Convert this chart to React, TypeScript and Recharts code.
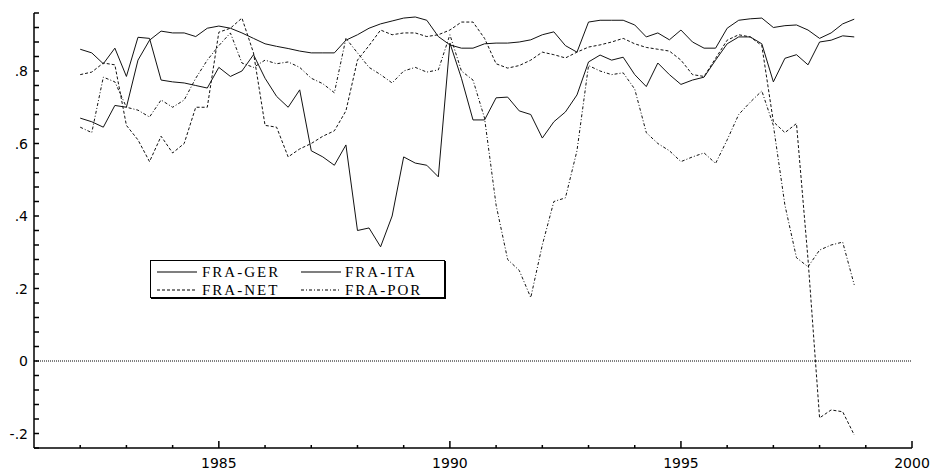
import { LineChart, Line, XAxis, YAxis, ReferenceLine, Legend } from 'recharts';

// quarterly observations, 1982Q1 .. 1998Q4
const QUARTERS = Array.from({ length: 68 }, (_, i) => 1982 + i / 4);

const FRA_GER = [
  0.67, 0.66, 0.645, 0.705, 0.70, 0.83, 0.885, 0.91, 0.905, 0.905, 0.895, 0.918,
  0.924, 0.918, 0.905, 0.89, 0.875, 0.868, 0.862, 0.855, 0.85, 0.85, 0.85, 0.885,
  0.90, 0.918, 0.93, 0.938, 0.946, 0.949, 0.94, 0.895, 0.872, 0.863, 0.863, 0.875,
  0.877, 0.877, 0.88, 0.886, 0.90, 0.908, 0.87, 0.852, 0.935, 0.94, 0.94, 0.94,
  0.927, 0.894, 0.905, 0.886, 0.913, 0.88, 0.863, 0.863, 0.918, 0.94, 0.944, 0.946,
  0.92, 0.925, 0.927, 0.913, 0.89, 0.905, 0.93, 0.943,
];
const FRA_ITA = [
  0.86, 0.85, 0.82, 0.863, 0.785, 0.893, 0.89, 0.775, 0.77, 0.767, 0.76, 0.753,
  0.81, 0.785, 0.80, 0.845, 0.78, 0.73, 0.70, 0.748, 0.58, 0.563, 0.54, 0.596,
  0.36, 0.367, 0.315, 0.40, 0.563, 0.546, 0.54, 0.508, 0.877, 0.78, 0.665, 0.665,
  0.726, 0.728, 0.69, 0.68, 0.615, 0.66, 0.687, 0.734, 0.825, 0.844, 0.83, 0.838,
  0.79, 0.757, 0.822, 0.79, 0.763, 0.775, 0.783, 0.83, 0.875, 0.894, 0.894, 0.875,
  0.77, 0.835, 0.845, 0.817, 0.88, 0.885, 0.897, 0.894,
];
const FRA_NET = [
  0.79, 0.797, 0.822, 0.817, 0.65, 0.61, 0.55, 0.62, 0.574, 0.60, 0.70, 0.70,
  0.907, 0.918, 0.946, 0.85, 0.65, 0.645, 0.563, 0.585, 0.60, 0.62, 0.635, 0.69,
  0.83, 0.87, 0.913, 0.90, 0.905, 0.905, 0.895, 0.90, 0.913, 0.935, 0.935, 0.89,
  0.82, 0.808, 0.815, 0.83, 0.852, 0.845, 0.836, 0.852, 0.866, 0.872, 0.88, 0.89,
  0.875, 0.865, 0.86, 0.855, 0.83, 0.79, 0.785, 0.835, 0.885, 0.90, 0.894, 0.87,
  0.66, 0.63, 0.655, 0.28, -0.157, -0.135, -0.14, -0.204,
];
const FRA_POR = [
  0.645, 0.63, 0.783, 0.77, 0.70, 0.692, 0.673, 0.72, 0.70, 0.72, 0.78, 0.83,
  0.87, 0.905, 0.822, 0.81, 0.83, 0.82, 0.825, 0.81, 0.78, 0.765, 0.74, 0.89,
  0.85, 0.81, 0.79, 0.767, 0.80, 0.81, 0.797, 0.803, 0.90, 0.80, 0.775, 0.67,
  0.43, 0.28, 0.25, 0.175, 0.32, 0.44, 0.45, 0.58, 0.815, 0.80, 0.79, 0.795,
  0.75, 0.63, 0.60, 0.58, 0.55, 0.563, 0.574, 0.545, 0.61, 0.68, 0.714, 0.745,
  0.65, 0.43, 0.285, 0.26, 0.306, 0.32, 0.328, 0.21,
];

const YEAR_TICKS = [
  1982, 1983, 1984, 1985, 1986, 1987, 1988, 1989, 1990, 1991,
  1992, 1993, 1994, 1995, 1996, 1997, 1998, 1999, 2000,
];
const Y_TICKS = [
  -0.24, -0.2, -0.16, -0.12, -0.08, -0.04, 0, 0.04, 0.08, 0.12, 0.16, 0.2, 0.24,
  0.28, 0.32, 0.36, 0.4, 0.44, 0.48, 0.52, 0.56, 0.6, 0.64, 0.68, 0.72, 0.76,
  0.8, 0.84, 0.88, 0.92, 0.96,
];

const SERIES = [
  { key: 'ger', name: 'FRA-GER', values: FRA_GER, dash: undefined },
  { key: 'ita', name: 'FRA-ITA', values: FRA_ITA, dash: undefined },
  { key: 'net', name: 'FRA-NET', values: FRA_NET, dash: '3 2' },
  { key: 'por', name: 'FRA-POR', values: FRA_POR, dash: '3 2 1 2' },
];

const rows = QUARTERS.map((q, i) => {
  const row: Record<string, number> = { t: q };
  SERIES.forEach(s => { row[s.key] = s.values[i]; });
  return row;
});

const fmtY = (v: number) => {
  const r = Math.round(v * 10) / 10;
  if (r === 0) return '0';
  return String(r).replace('0.', '.');
};

function XTick({ x, y, payload }: any) {
  const major = payload.value % 5 === 0;
  return (
    <g>
      <line x1={x} y1={y} x2={x} y2={y - (major ? 7 : 3)} stroke="#000" strokeWidth={1.5} />
      {major && (
        <text x={x} y={y + 20} textAnchor="middle" fontSize={14} fontFamily="DejaVu Sans" fill="#000">
          {payload.value}
        </text>
      )}
    </g>
  );
}

function YTick({ x, y, payload }: any) {
  const v = payload.value;
  const major = Math.abs(Math.round(v * 5) - v * 5) < 1e-6;
  return (
    <g>
      <line x1={x} y1={y} x2={x + 5} y2={y} stroke="#000" strokeWidth={1.5} />
      {major && (
        <text x={x - 6} y={y + 5} textAnchor="end" fontSize={14} fontFamily="DejaVu Sans" fill="#000">
          {fmtY(v)}
        </text>
      )}
    </g>
  );
}

function LegendBox() {
  const cols = [
    { lx: 6, tx: 51 },
    { lx: 150, tx: 194 },
  ];
  return (
    <div style={{ border: '1.5px solid #000', boxShadow: '1px 1px 0 #000', background: '#fff', width: 293, height: 36 }}>
      <svg width={293} height={36}>
        {SERIES.map((s, i) => {
          const c = cols[i % 2];
          const cy = i < 2 ? 11 : 29;
          return (
            <g key={s.key}>
              <line x1={c.lx} x2={c.lx + 40} y1={cy} y2={cy} stroke="#000" strokeWidth={1.2} strokeDasharray={s.dash} />
              <text x={c.tx} y={cy + 5} fontSize={15} letterSpacing={2} fontFamily="Liberation Serif" fill="#000">
                {s.name}
              </text>
            </g>
          );
        })}
      </svg>
    </div>
  );
}

export default function App() {
  return (
    <div style={{ position: 'absolute', left: 0, top: 0, width: 934, height: 470, background: '#fff' }}>
      <LineChart width={934} height={470} data={rows} margin={{ top: 13, right: 22, bottom: 0, left: 0 }}>
        <XAxis
          dataKey="t"
          type="number"
          domain={[1981, 2000]}
          ticks={YEAR_TICKS}
          interval={0}
          height={22}
          tickSize={0}
          tickMargin={0}
          tickLine={false}
          axisLine={{ stroke: '#000', strokeWidth: 1.5 }}
          tick={<XTick />}
          allowDataOverflow
        />
        <YAxis
          type="number"
          domain={[-0.24, 0.96]}
          ticks={Y_TICKS}
          interval={0}
          width={34}
          tickSize={0}
          tickMargin={0}
          tickLine={false}
          axisLine={{ stroke: '#000', strokeWidth: 1.5 }}
          tick={<YTick />}
          allowDataOverflow
        />
        <ReferenceLine y={0} stroke="#000" strokeWidth={1} strokeDasharray="1 1" />
        {SERIES.map(s => (
          <Line
            key={s.key}
            dataKey={s.key}
            name={s.name}
            type="linear"
            stroke="#111"
            strokeWidth={1}
            strokeDasharray={s.dash}
            dot={false}
            activeDot={false}
            isAnimationActive={false}
          />
        ))}
        <Legend
          layout="horizontal"
          verticalAlign="middle"
          align="center"
          content={() => <LegendBox />}
          wrapperStyle={{ left: 150, top: 260, width: 296, height: 39 }}
        />
      </LineChart>
    </div>
  );
}
